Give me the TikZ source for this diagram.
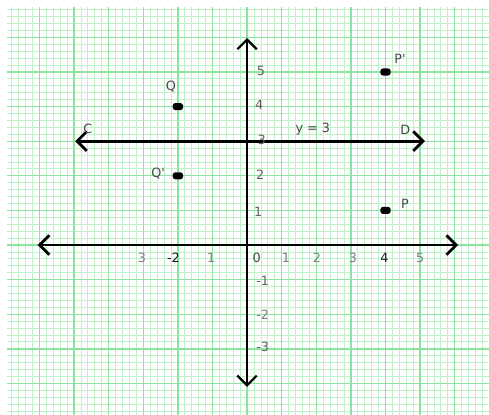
\documentclass[tikz,border=0pt]{standalone}
\usepackage{fontspec}
\setmainfont{DejaVu Sans}
\usetikzlibrary{arrows.meta}
\begin{document}
\begin{tikzpicture}[x=1cm,y=1cm,
  >={Straight Barb[length=8pt,width=16pt]},
  minorgrid/.style={draw={rgb,255:red,192;green,242;blue,202}, line width=0.7pt},
  majorgrid/.style={draw={rgb,255:red,140;green,228;blue,160}, line width=1.1pt},
  haxis/.style={line width=2.3pt, <->},
  vaxis/.style={line width=1.8pt, <->},
  lbl/.style={font=\fontsize{10.5}{11}\selectfont, text=black!72, inner sep=0pt},
  faint/.style={lbl, text=black!50},
  mid/.style={lbl, text=black!62},
  dot/.style={fill=black, rounded corners=2.2pt, minimum width=8.5pt, minimum height=5.8pt, inner sep=0pt}
]
\useasboundingbox (-7.14,-4.91) rectangle (6.99,7.08);
\fill[white] (-7.14,-4.91) rectangle (6.99,7.08);
\draw[minorgrid, step=0.2] (-6.94,-4.91) grid (6.99,6.88);
\draw[majorgrid, step=1] (-6.94,-4.91) grid (6.99,6.88);

% axes
\coordinate (xl) at (-6.05,0);
\coordinate (xr) at (6.1,0);
\coordinate (yt) at (0,5.98);
\coordinate (yb) at (0,-4.1);
\draw[haxis] (xl) -- (xr);
\draw[vaxis] (yb) -- (yt);

% line y = 3
\coordinate (C0) at (-4.97,3);
\coordinate (D0) at (5.14,3);
\draw[haxis] (C0) -- (D0);
\node[lbl] (C) at (-4.6,3.36) {C};
\node[lbl] (D) at (4.57,3.32) {D};
\node[lbl] (eq) at (1.9,3.36) {y = 3};

% x tick labels
\node[faint] (xm3) at (-3.04,-0.38) {3};
\node[lbl, text=black!90] (xm2) at (-2.13,-0.38) {-2};
\node[faint] (xm1) at (-1.04,-0.38) {1};
\node[lbl] (x0) at (0.28,-0.38) {0};
\node[faint] (x1) at (1.12,-0.38) {1};
\node[faint] (x2) at (2.02,-0.38) {2};
\node[faint] (x3) at (3.06,-0.38) {3};
\node[lbl, text=black!90] (x4) at (3.97,-0.38) {4};
\node[faint] (x5) at (5.0,-0.38) {5};

% y tick labels
\node[mid] (y5) at (0.4,5.03) {5};
\node[mid] (y4) at (0.35,4.05) {4};
\node[mid] (y3) at (0.42,3.03) {3};
\node[mid] (y2) at (0.38,2.02) {2};
\node[mid] (y1) at (0.32,0.95) {1};
\node[mid] (ym1) at (0.45,-1.04) {-1};
\node[faint] (ym2) at (0.45,-2.02) {-2};
\node[mid] (ym3) at (0.45,-2.94) {-3};

% points
\node[dot] (Q) at (-2,4) {};
\node[lbl] (Ql) at (-2.2,4.58) {Q};
\node[dot] (Qp) at (-2,2) {};
\node[lbl] (Qpl) at (-2.57,2.06) {Q\textquotesingle};
\node[dot] (Pp) at (4,5) {};
\node[lbl] (Ppl) at (4.42,5.38) {P\textquotesingle};
\node[dot] (P) at (4,1) {};
\node[lbl] (Pl) at (4.56,1.2) {P};
\end{tikzpicture}
\end{document}
